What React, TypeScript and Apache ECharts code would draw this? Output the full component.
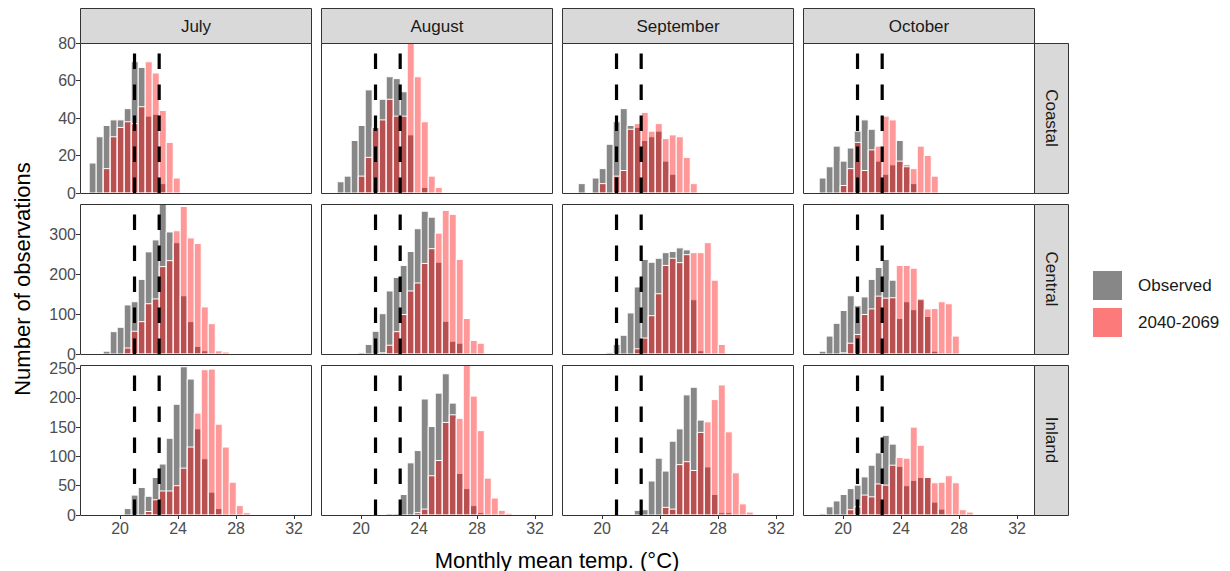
import React, { useEffect, useRef } from 'react';
import * as echarts from 'echarts';

// ---------------- data ----------------
const MONTHS = ['July', 'August', 'September', 'October'];
const REGIONS = ['Coastal', 'Central', 'Inland'];
const X_TICKS = [20, 24, 28, 32];
const Y_TICKS_COASTAL = [0, 20, 40, 60, 80];
const Y_TICKS_CENTRAL = [0, 100, 200, 300];
const Y_TICKS_INLAND = [0, 50, 100, 150, 200, 250];
const BIN_FIRST_CENTER = 18.115; // centre of bin 0 (°C)
const BIN_WIDTH = 0.483; // °C
const THRESHOLDS = [21, 22.7];

// counts per bin (index = bin number from BIN_FIRST_CENTER)
const obsCoastalJul = [16, 30, 36, 39, 39, 45, 70, 67, 41, 42, 5];
const futCoastalJul = [0, 0, 13, 30, 35, 38, 37, 46, 70, 64, 44, 27, 8];
const obsCoastalAug = [0, 6, 9, 28, 36, 55, 35, 50, 62, 61, 54, 31, 0, 3];
const futCoastalAug = [0, 0, 0, 0, 9, 19, 35, 39, 50, 41, 41, 80, 62, 38, 9, 3];
const obsCoastalSep = [0, 5, 0, 8, 13, 26, 38, 45, 36, 35, 28, 30, 33, 17, 10];
const futCoastalSep = [0, 0, 0, 0, 5, 0, 9, 12, 34, 37, 43, 33, 37, 29, 31, 30, 19, 5];
const obsCoastalOct = [0, 8, 14, 25, 17, 24, 33, 39, 34, 17, 10, 15, 28, 15, 5];
const futCoastalOct = [0, 0, 0, 0, 4, 13, 27, 12, 23, 25, 41, 39, 17, 14, 13, 25, 20, 9];

const obsCentralJul = [0, 0, 7, 56, 67, 123, 131, 187, 256, 286, 376, 306, 279, 146, 81, 19, 8];
const futCentralJul = [0, 0, 0, 0, 0, 15, 57, 81, 126, 138, 219, 234, 309, 370, 291, 277, 118, 76, 8, 5];
const obsCentralAug = [0, 0, 0, 0, 3, 24, 57, 101, 158, 192, 222, 257, 314, 358, 343, 230, 82, 32, 27];
const futCentralAug = [0, 0, 0, 0, 0, 0, 0, 3, 22, 56, 99, 158, 178, 227, 264, 303, 360, 350, 237, 89, 34, 27];
const obsCentralSep = [0, 0, 0, 0, 0, 3, 24, 47, 103, 168, 237, 230, 240, 254, 257, 266, 261, 136, 8];
const futCentralSep = [0, 0, 0, 0, 0, 0, 0, 0, 0, 13, 40, 96, 151, 222, 240, 229, 249, 254, 254, 279, 185, 24];
const obsCentralOct = [0, 7, 45, 77, 109, 146, 121, 143, 187, 217, 237, 185, 89, 131, 111, 136, 94, 7];
const futCentralOct = [0, 0, 0, 0, 3, 27, 49, 99, 113, 145, 140, 141, 222, 222, 215, 138, 113, 114, 131, 126, 45];

const obsInlandJul = [0, 0, 0, 0, 0, 11, 34, 47, 32, 64, 87, 131, 189, 253, 232, 147, 96, 39, 11];
const futInlandJul = [0, 0, 0, 0, 0, 0, 0, 0, 6, 26, 41, 41, 50, 80, 116, 174, 248, 249, 155, 116, 56, 16, 4];
const obsInlandAug = [0, 0, 0, 0, 0, 0, 0, 0, 2, 2, 35, 89, 110, 198, 151, 208, 241, 191, 71, 45, 16, 4];
const futInlandAug = [0, 0, 0, 0, 0, 0, 0, 0, 0, 0, 0, 0, 4, 10, 67, 93, 158, 171, 165, 256, 203, 144, 63, 29, 8, 3];
const obsInlandSep = [0, 0, 0, 0, 0, 0, 0, 0, 0, 8, 9, 58, 97, 75, 126, 147, 205, 218, 162, 82, 35, 4, 4];
const futInlandSep = [0, 0, 0, 0, 0, 0, 0, 0, 0, 0, 0, 0, 0, 13, 10, 86, 91, 76, 141, 159, 197, 222, 142, 72, 19, 5];
const obsInlandOct = [0, 2, 14, 24, 35, 45, 51, 65, 85, 106, 136, 121, 83, 50, 59, 64, 65, 22, 10];
const futInlandOct = [0, 0, 0, 0, 0, 9, 14, 34, 31, 53, 51, 85, 98, 97, 150, 119, 64, 55, 56, 67, 55, 9, 5];

const OBSERVED = [
  [obsCoastalJul, obsCoastalAug, obsCoastalSep, obsCoastalOct],
  [obsCentralJul, obsCentralAug, obsCentralSep, obsCentralOct],
  [obsInlandJul, obsInlandAug, obsInlandSep, obsInlandOct],
];
const FUTURE = [
  [futCoastalJul, futCoastalAug, futCoastalSep, futCoastalOct],
  [futCentralJul, futCentralAug, futCentralSep, futCentralOct],
  [futInlandJul, futInlandAug, futInlandSep, futInlandOct],
];
const Y_TICKS = [Y_TICKS_COASTAL, Y_TICKS_CENTRAL, Y_TICKS_INLAND];

// ---------------- layout / style ----------------
const FONT = '"Liberation Sans", Arial, Helvetica, sans-serif';
const PANEL_LEFT = [80, 321, 562, 803];
const PANEL_TOP = [43, 204, 365];
const PANEL_W = 231;
const PANEL_H = 150;
const X_MIN = 17.24;
const X_MAX = 33.17;
const OBS_COLOR = 'rgba(0,0,0,0.47)';
const FUT_COLOR = 'rgba(255,0,0,0.4)';
const OBS_KEY = 'rgba(0,0,0,0.47)';
const FUT_KEY = 'rgba(250,0,0,0.52)';

function histSeries(name: string, counts: number[], idx: number, color: string, z: number) {
  const data: number[][] = [];
  counts.forEach((v, k) => {
    if (v > 0) data.push([BIN_FIRST_CENTER + k * BIN_WIDTH, v]);
  });
  return {
    type: 'custom',
    name,
    xAxisIndex: idx,
    yAxisIndex: idx,
    silent: true,
    z,
    itemStyle: { color },
    encode: { x: 0, y: 1 },
    data,
    renderItem: (params: any, api: any) => {
      const x = api.value(0);
      const v = api.value(1);
      const tl = api.coord([x - BIN_WIDTH / 2, v]);
      const br = api.coord([x + BIN_WIDTH / 2, 0]);
      return {
        type: 'rect',
        shape: { x: tl[0], y: tl[1], width: br[0] - tl[0], height: br[1] - tl[1] },
        style: { fill: color, stroke: '#ffffff', lineWidth: 1 },
      };
    },
  };
}

function centeredText(text: string, x: number, y: number, size: number, fill: string, rotation = 0) {
  return {
    type: 'text',
    z: 101,
    silent: true,
    x,
    y,
    rotation,
    style: {
      text,
      fill,
      fontSize: size,
      fontFamily: FONT,
      align: 'center',
      verticalAlign: 'middle',
      textAlign: 'center',
      textVerticalAlign: 'middle',
    },
  };
}

function buildOption() {
  const grids: any[] = [];
  const xAxes: any[] = [];
  const yAxes: any[] = [];
  const series: any[] = [];
  const graphics: any[] = [];

  REGIONS.forEach((region, r) => {
    let rowMax = 0;
    OBSERVED[r].forEach((a) => a.forEach((v) => (rowMax = Math.max(rowMax, v))));
    FUTURE[r].forEach((a) => a.forEach((v) => (rowMax = Math.max(rowMax, v))));
    MONTHS.forEach((month, c) => {
      const idx = r * 4 + c;
      grids.push({
        left: PANEL_LEFT[c],
        top: PANEL_TOP[r],
        width: PANEL_W,
        height: PANEL_H,
        show: true,
        backgroundColor: '#ffffff',
        borderWidth: 0,
      });
      xAxes.push({
        type: 'value',
        gridIndex: idx,
        min: X_MIN,
        max: X_MAX,
        splitLine: { show: false },
        axisLine: { show: false },
        axisTick: { show: r === 2, length: 4, lineStyle: { color: '#333333', width: 1 }, customValues: X_TICKS },
        axisLabel: {
          show: r === 2,
          customValues: X_TICKS,
          color: '#4D4D4D',
          fontSize: 16,
          lineHeight: 14,
          fontFamily: FONT,
          margin: 6,
        },
      });
      yAxes.push({
        type: 'value',
        gridIndex: idx,
        min: 0,
        max: rowMax,
        splitLine: { show: false },
        axisLine: { show: false },
        axisTick: { show: c === 0, length: 4, lineStyle: { color: '#333333', width: 1 }, customValues: Y_TICKS[r] },
        axisLabel: {
          show: c === 0,
          customValues: Y_TICKS[r],
          color: '#4D4D4D',
          fontSize: 16,
          lineHeight: 14,
          fontFamily: FONT,
          margin: 4,
        },
      });
      series.push(histSeries('Observed', OBSERVED[r][c], idx, OBS_COLOR, 2));
      series.push(histSeries('2040-2069', FUTURE[r][c], idx, FUT_COLOR, 3));
      THRESHOLDS.forEach((t) => {
        series.push({
          type: 'line',
          xAxisIndex: idx,
          yAxisIndex: idx,
          silent: true,
          z: 5,
          symbol: 'none',
          data: [
            [t, 0],
            [t, rowMax],
          ],
          lineStyle: { color: '#000000', width: 3.2, type: [15.5, 15.5], cap: 'butt' },
        });
      });
      // panel border on top
      graphics.push({
        type: 'rect',
        z: 100,
        silent: true,
        shape: { x: PANEL_LEFT[c] + 0.5, y: PANEL_TOP[r] + 0.5, width: PANEL_W, height: PANEL_H },
        style: { fill: 'none', stroke: '#333333', lineWidth: 1 },
      });
    });
    // right strip
    graphics.push({
      type: 'rect',
      z: 100,
      silent: true,
      shape: { x: PANEL_LEFT[3] + PANEL_W + 0.5, y: PANEL_TOP[r] + 0.5, width: 34, height: PANEL_H },
      style: { fill: '#D9D9D9', stroke: '#333333', lineWidth: 1 },
    });
    graphics.push(
      centeredText(region, PANEL_LEFT[3] + PANEL_W + 17.5, PANEL_TOP[r] + PANEL_H / 2, 17, '#1A1A1A', -Math.PI / 2)
    );
  });

  MONTHS.forEach((month, c) => {
    graphics.push({
      type: 'rect',
      z: 100,
      silent: true,
      shape: { x: PANEL_LEFT[c] + 0.5, y: 8.5, width: PANEL_W, height: 35 },
      style: { fill: '#D9D9D9', stroke: '#333333', lineWidth: 1 },
    });
    graphics.push(centeredText(month, PANEL_LEFT[c] + PANEL_W / 2 + 0.5, 26.5, 17, '#1A1A1A'));
  });

  // axis titles
  graphics.push(centeredText('Monthly mean temp. (°C)', 557, 560, 22, '#000000'));
  graphics.push(centeredText('Number of observations', 22, 279, 22, '#000000', Math.PI / 2));

  return {
    animation: false,
    backgroundColor: '#ffffff',
    textStyle: { fontFamily: FONT },
    legend: {
      orient: 'vertical',
      left: 1093,
      top: 271,
      padding: 0,
      itemWidth: 29,
      itemHeight: 29,
      itemGap: 8,
      icon: 'rect',
      selectedMode: false,
      textStyle: { fontSize: 17, color: '#1A1A1A', fontFamily: FONT, padding: [0, 0, 0, 11] },
      data: [
        { name: 'Observed', itemStyle: { color: OBS_KEY } },
        { name: '2040-2069', itemStyle: { color: FUT_KEY } },
      ],
    },
    grid: grids,
    xAxis: xAxes,
    yAxis: yAxes,
    series,
    graphic: { elements: graphics },
  };
}

export default function App() {
  const ref = useRef<HTMLDivElement>(null);
  useEffect(() => {
    if (!ref.current) return;
    const chart = echarts.init(ref.current, null, { renderer: 'svg' });
    chart.setOption(buildOption() as any);
    return () => chart.dispose();
  }, []);
  return (
    <div
      ref={ref}
      style={{ position: 'fixed', left: 0, top: 0, width: 1230, height: 571, background: '#ffffff' }}
    />
  );
}
